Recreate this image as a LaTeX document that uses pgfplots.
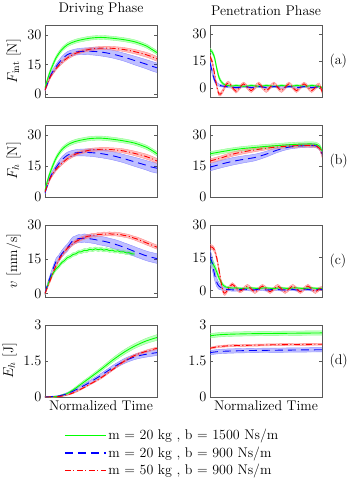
\documentclass[border=0pt]{standalone}
\usepackage{pgfplots}
\pgfplotsset{compat=1.18}
\usepackage{pgfplotstable}
\usepgfplotslibrary{groupplots,fillbetween}
\usetikzlibrary{calc}

% columns: t = normalized time, g/b/r = mean, gs/bs/rs = band half-width
\pgfplotstableread{
t g gs b bs r rs
0 3 0.5 2 0.5 2 0.5
0.02 7 0.8 5 0.8 5 0.6
0.05 12 1 9.5 1 9 0.8
0.1 18.5 1 14 1.2 13 0.8
0.15 22.5 1 17.5 1.5 16 0.8
0.2 25 1 20 1.5 18.3 0.8
0.25 26.3 1 21 1.5 20 0.8
0.3 27.2 1 21.5 1.6 21.2 0.8
0.4 28.3 1 21.7 1.8 22.7 0.8
0.5 28.7 1 21.3 2 23.3 0.8
0.6 28.3 1 20.3 2 23.2 0.9
0.7 27.6 1 18.8 2 22.6 1
0.8 26.5 1 17 2.2 21.5 1.1
0.9 24.5 1 15.2 2.3 20 1.2
0.95 22.8 1 14.2 2.4 19 1.2
1 21 1 13.3 2.4 17.8 1.2
}\DA
\pgfplotstableread{
t g gs b bs r rs
0 3 0.5 2 0.5 2.5 0.5
0.02 7.5 0.8 5.5 0.8 5.5 0.6
0.05 12.5 1 10 1 9.5 0.8
0.1 19 1 14.5 1.2 13.5 0.8
0.15 23 1 18 1.5 16.3 0.8
0.2 25.3 1 20.3 1.5 18.6 0.8
0.25 26.6 1 21.2 1.5 20.2 0.8
0.3 27.4 1 21.6 1.6 21.4 0.8
0.4 28.4 1 21.6 1.8 22.8 0.8
0.5 28.6 1 21.1 2 23.2 0.8
0.6 28.1 1 20.1 2 23 0.9
0.7 27.3 1 18.7 2 22.4 1
0.8 26.2 1 17.1 2.2 21.2 1.1
0.9 24.3 1 15.5 2.3 19.7 1.2
0.95 22.8 1 14.6 2.4 18.7 1.2
1 21 1 14 2.4 17.5 1.2
}\DB
\pgfplotstableread{
t g gs b bs r rs
0 0 0.5 0 0.5 0 0.5
0.025 3.8 0.6 4.2 0.8 3.2 0.6
0.05 6.9 0.7 7.8 1 6.2 0.7
0.075 9.1 0.8 11.2 1.2 9.5 0.8
0.1 10.9 0.8 14.2 1.3 12.4 0.8
0.125 12.1 0.8 15.6 1.4 14.8 0.8
0.15 13.6 0.8 17.4 1.5 16.8 0.8
0.175 14.5 0.8 18.9 1.5 18.3 0.8
0.2 15.7 0.8 20.1 1.6 19.8 0.8
0.225 16.2 0.8 21.8 1.6 20.9 0.8
0.25 17.1 0.8 23.2 1.6 21.9 0.8
0.275 17.4 0.8 23.6 1.7 22.8 0.8
0.3 18.2 0.8 24.1 1.7 23.4 0.8
0.325 18.3 0.8 24.0 1.7 24.1 0.8
0.35 18.9 0.8 24.3 1.8 24.5 0.8
0.375 18.8 0.8 24.1 1.8 25.0 0.8
0.4 19.4 0.8 24.0 1.8 25.2 0.8
0.425 19.1 0.8 23.8 1.8 25.6 0.8
0.45 19.6 0.8 23.6 1.8 25.5 0.8
0.475 19.2 0.8 23.3 1.9 25.9 0.8
0.5 19.5 0.8 23.1 1.9 25.9 0.8
0.525 19.0 0.8 22.9 1.9 26.1 0.8
0.55 19.3 0.8 22.6 1.9 26.0 0.8
0.575 18.8 0.8 22.3 1.9 26.2 0.8
0.6 19.0 0.8 21.9 2 26.0 0.8
0.625 18.5 0.8 21.6 2 26.1 0.8
0.65 18.7 0.8 21.2 2 25.9 0.8
0.675 18.2 0.8 20.8 2 25.8 0.8
0.7 18.3 0.8 20.3 2 25.5 0.8
0.725 17.8 0.8 19.9 2 25.3 0.8
0.75 17.9 0.8 19.4 2 25.0 0.8
0.775 17.4 0.8 18.9 2.1 24.6 0.8
0.8 17.3 0.8 18.4 2.1 24.2 0.8
0.825 17 0.8 17.9 2.1 23.8 0.9
0.85 16.6 0.8 17.5 2.1 23.3 0.9
0.875 16.3 0.8 17.0 2.1 22.8 0.9
0.9 16 0.8 16.6 2.1 22.3 0.9
0.925 15.7 0.8 16.2 2.1 21.8 0.9
0.95 15.4 0.8 15.9 2.1 21.3 0.9
0.975 15.1 0.8 15.6 2.1 20.8 0.9
1 14.8 0.8 15.3 2.1 20.3 0.9
}\DC
\pgfplotstableread{
t g gs b bs r rs
0 0 0.01 0 0.01 0 0.01
0.1 0.02 0.02 0.03 0.02 0.01 0.01
0.15 0.07 0.03 0.07 0.03 0.04 0.02
0.2 0.15 0.04 0.14 0.04 0.09 0.02
0.25 0.29 0.05 0.24 0.05 0.17 0.03
0.3 0.46 0.06 0.36 0.06 0.28 0.03
0.35 0.63 0.07 0.48 0.07 0.4 0.03
0.4 0.8 0.07 0.61 0.07 0.53 0.03
0.5 1.15 0.08 0.9 0.08 0.8 0.04
0.6 1.52 0.09 1.21 0.09 1.13 0.04
0.7 1.85 0.1 1.48 0.1 1.47 0.05
0.8 2.12 0.1 1.67 0.11 1.73 0.05
0.9 2.33 0.11 1.78 0.12 1.9 0.05
1 2.48 0.12 1.85 0.12 2.03 0.05
}\DD
\pgfplotstableread{
t g gs b bs r rs
0 21 1 14 1.5 17.5 1
0.02 20 1 9 1.5 14.5 1
0.04 17 1 4.5 1 8 1
0.06 11 1 2.3 0.8 1 1
0.08 6 1 1.6 0.6 -3.3 1
0.10 3.5 0.8 1.2 0.6 -3 1
0.12 2.2 0.6 1 0.5 -1 1
0.14 1.6 0.5 0.8 0.5 1.5 1
0.165 1.3 0.5 0.6 0.5 2.8 1
0.199 1.1 0.5 0.4 0.5 0.5 1
0.2325 1.4 0.5 0.2 0.5 -1.8 1
0.266 1.2 0.5 0.4 0.5 0.3 1
0.30 0.9 0.5 0.8 0.5 2.3 1
0.334 1.1 0.5 0.6 0.5 0.4 1
0.3675 1.4 0.5 0.2 0.5 -1.5 1
0.401 1.2 0.5 0.4 0.5 0.4 1
0.435 0.9 0.5 0.8 0.5 2.3 1
0.469 1.1 0.5 0.6 0.5 0.4 1
0.5025 1.4 0.5 0.2 0.5 -1.5 1
0.536 1.2 0.5 0.4 0.5 0.4 1
0.57 0.9 0.5 0.8 0.5 2.3 1
0.604 1.1 0.5 0.6 0.5 0.4 1
0.6375 1.4 0.5 0.2 0.5 -1.5 1
0.671 1.2 0.5 0.4 0.5 0.4 1
0.705 0.9 0.5 0.8 0.5 2.3 1
0.739 1.1 0.5 0.6 0.5 0.4 1
0.7725 1.4 0.5 0.2 0.5 -1.5 1
0.806 1.2 0.5 0.4 0.5 0.4 1
0.84 0.9 0.5 0.8 0.5 2.3 1
0.874 1.1 0.5 0.6 0.5 0.4 1
0.9075 1.4 0.5 0.2 0.5 -1.5 1
0.941 1.2 0.5 0.4 0.5 0.4 1
0.975 0.8 0.5 0.6 0.5 1.8 1
1 0.3 0.5 -0.3 0.5 -2 1
}\PA
\pgfplotstableread{
t g gs b bs r rs
0 21 1 14.5 1.8 17.5 1
0.1 22 1 16 1.8 19 1
0.2 22.9 1 17.3 1.8 20.8 1
0.3 23.6 1 18.3 1.7 22 1
0.4 24.1 1 19.2 1.6 22.9 0.9
0.5 24.6 1 20.8 1.4 23.7 0.8
0.6 25 1 22.8 1.2 24.3 0.8
0.7 25.4 1 24.2 1 24.7 0.8
0.8 25.7 1 24.8 0.9 25 0.8
0.9 25.8 1 25 0.9 25 0.8
0.95 25.6 1 24.8 0.9 24.8 0.8
0.98 24.6 1 23.6 1 23.6 0.9
1 22.2 1 21 1 20.2 1
}\PB
\pgfplotstableread{
t g gs b bs r rs
0 13.5 1.5 15.5 3 20 1
0.02 12.8 1.5 12.5 3 19.8 1
0.04 11 1.5 7.5 2.5 18.5 1
0.06 8.5 1.2 3.8 2 15 1
0.08 5.8 1 2 1.5 9.5 1
0.10 3.8 0.8 1.2 1 3.5 1
0.12 2.3 0.6 0.7 0.8 -0.8 1
0.14 1.6 0.5 0.5 0.7 -1 1
0.165 1.3 0.4 0.4 0.6 1 0.8
0.199 1.1 0.4 0.3 0.6 2.8 0.8
0.2325 1.2 0.4 0.2 0.5 1.2 0.8
0.266 1.0 0.4 0.4 0.5 -0.3 0.8
0.30 0.9 0.4 0.6 0.5 0.7 0.8
0.334 1.1 0.4 0.5 0.5 2 0.8
0.3675 1.2 0.4 0.2 0.5 0.7 0.8
0.401 1.0 0.4 0.3 0.5 -0.6 0.8
0.435 0.9 0.4 0.6 0.5 0.7 0.8
0.469 1.1 0.4 0.5 0.5 2 0.8
0.5025 1.2 0.4 0.2 0.5 0.7 0.8
0.536 1.0 0.4 0.3 0.5 -0.6 0.8
0.57 0.9 0.4 0.6 0.5 0.7 0.8
0.604 1.1 0.4 0.5 0.5 2 0.8
0.6375 1.2 0.4 0.2 0.5 0.7 0.8
0.671 1.0 0.4 0.3 0.5 -0.6 0.8
0.705 0.9 0.4 0.6 0.5 0.7 0.8
0.739 1.1 0.4 0.5 0.5 2 0.8
0.7725 1.2 0.4 0.2 0.5 0.7 0.8
0.806 1.0 0.4 0.3 0.5 -0.6 0.8
0.84 0.9 0.4 0.6 0.5 0.7 0.8
0.874 1.1 0.4 0.5 0.5 2 0.8
0.9075 1.2 0.4 0.2 0.5 0.7 0.8
0.941 1.0 0.4 0.3 0.5 -0.6 0.8
0.975 0.9 0.4 0.6 0.5 0.7 0.8
1 1.0 0.4 0.4 0.5 1 0.8
}\PC
\pgfplotstableread{
t g gs b bs r rs
0 2.55 0.09 1.85 0.09 2.03 0.04
0.05 2.58 0.09 1.88 0.09 2.08 0.04
0.1 2.6 0.09 1.9 0.09 2.11 0.04
0.2 2.62 0.09 1.92 0.09 2.14 0.04
0.4 2.64 0.09 1.94 0.09 2.16 0.04
0.6 2.65 0.09 1.95 0.09 2.18 0.04
0.8 2.66 0.09 1.96 0.09 2.19 0.04
1 2.67 0.09 1.97 0.09 2.2 0.04
}\PD

\definecolor{cg}{rgb}{0,1,0}
\definecolor{cb}{rgb}{0,0,1}
\definecolor{cr}{rgb}{1,0,0}
\tikzset{
  lg/.style={color=cg, line width=0.9pt, solid},
  lb/.style={color=cb, line width=0.9pt, dash pattern=on 8pt off 5pt},
  lr/.style={color=cr, line width=0.9pt, dash pattern=on 6pt off 2.5pt on 1pt off 2.5pt},
}

% shaded band: table, mean col, spread col, colour, last x, name
\newcommand{\band}[6]{%
  \addplot[name path=#6u, draw=#4!45, line width=0.4pt, smooth, forget plot, restrict x to domain=0:#5]
    table[x=t, y expr=\thisrow{#2}+\thisrow{#3}] {#1};
  \addplot[name path=#6l, draw=#4!45, line width=0.4pt, smooth, forget plot, restrict x to domain=0:#5]
    table[x=t, y expr=\thisrow{#2}-\thisrow{#3}] {#1};
  \addplot[fill=#4, fill opacity=0.25, draw=none, forget plot] fill between[of=#6u and #6l];
}
\newcommand{\panel}[3]{%
  \band{#1}{g}{gs}{cg}{#3}{#2g}
  \band{#1}{b}{bs}{cb}{1}{#2b}
  \band{#1}{r}{rs}{cr}{1}{#2r}
  \addplot[lg, smooth, forget plot, restrict x to domain=0:#3] table[x=t, y=g] {#1};
  \addplot[lb, smooth, forget plot] table[x=t, y=b] {#1};
  \addplot[lr, smooth, forget plot] table[x=t, y=r] {#1};
}

\begin{document}
\begin{tikzpicture}[font=\fontsize{14}{17}\selectfont]
\begin{groupplot}[
  group style={group size=2 by 4, horizontal sep=53pt, vertical sep=28pt},
  scale only axis, width=112pt, height=72pt,
  xmin=0, xmax=1, xtick=\empty,
  tick align=inside, major tick length=3pt,
  axis line style={black!65, line width=0.5pt},
  every tick/.style={black!65, line width=0.5pt},
]
\nextgroupplot[title={Driving Phase}, ylabel={$F_{\mathrm{int}}$ [N]}, ymin=-1.5, ymax=35, ytick={0,15,30}]
\panel{\DA}{pa}{1}
\nextgroupplot[title={Penetration Phase}, ymin=-5, ymax=35, ytick={0,15,30}]
\panel{\PA}{pb}{1}
\nextgroupplot[ylabel={$F_h$ [N]}, ymin=0, ymax=35, ytick={0,15,30}]
\panel{\DB}{pc}{1}
\nextgroupplot[ymin=0, ymax=35, ytick={0,15,30}]
\panel{\PB}{pd}{1}
\nextgroupplot[ylabel={$v$ [mm/s]}, ymin=-1.5, ymax=30, ytick={0,15,30}]
\panel{\DC}{pe}{0.8}
\nextgroupplot[ymin=-3, ymax=30, ytick={0,15,30}]
\panel{\PC}{pf}{1}
\nextgroupplot[ylabel={$E_h$ [J]}, ymin=0, ymax=3, ytick={0,1.5,3}, xlabel={Normalized Time}]
\panel{\DD}{pg}{1}
\nextgroupplot[ymin=0, ymax=3, ytick={0,1.5,3}, xlabel={Normalized Time}]
\panel{\PD}{ph}{1}
\end{groupplot}
% legend kept in its own empty axis over the bottom-left panel
\begin{axis}[at={(group c1r4.south west)}, anchor=south west,
  scale only axis, width=112pt, height=72pt, hide axis,
  xmin=0, xmax=1, ymin=0, ymax=1,
  legend style={draw=white, fill=white, inner sep=0pt, row sep=1.5pt,
    at={(axis description cs:0.17,-0.42)}, anchor=north west, cells={anchor=west}},
  legend image code/.code={\draw[#1, line width=1.2pt] (0pt,0pt) -- (41pt,0pt);}]
\addlegendimage{color=cg, solid}
\addlegendentry{m = 20 kg , b = 1500 Ns/m}
\addlegendimage{color=cb, dash pattern=on 8pt off 5pt}
\addlegendentry{m = 20 kg , b = 900 Ns/m}
\addlegendimage{color=cr, dash pattern=on 6pt off 2.5pt on 1pt off 2.5pt}
\addlegendentry{m = 50 kg , b = 900 Ns/m}
\end{axis}
\node[anchor=west] at ([xshift=4pt]group c2r1.east) {(a)};
\node[anchor=west] at ([xshift=4pt]group c2r2.east) {(b)};
\node[anchor=west] at ([xshift=4pt]group c2r3.east) {(c)};
\node[anchor=west] at ([xshift=4pt]group c2r4.east) {(d)};
\pgfresetboundingbox
\path[use as bounding box] ($(group c1r1.north west)+(-45pt,-468pt)$) rectangle ($(group c1r1.north west)+(305pt,25pt)$);
\end{tikzpicture}
\end{document}
